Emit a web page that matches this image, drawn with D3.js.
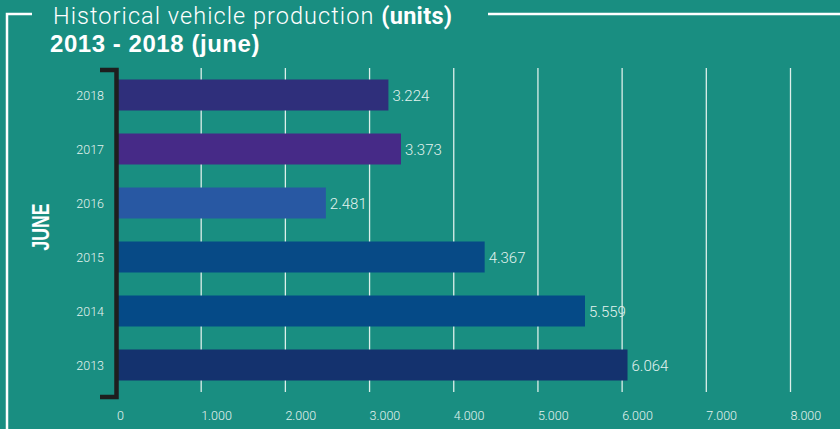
<!DOCTYPE html>
<html>
<head>
<meta charset="utf-8">
<script src="https://cdn.jsdelivr.net/npm/d3@7/dist/d3.min.js"></script>
<style>
html,body{margin:0;padding:0;background:#198e81;}
svg{display:block;}
</style>
</head>
<body>
<svg id="chart" width="840" height="429"></svg>
<script>
const years = ["2018","2017","2016","2015","2014","2013"];
const units = [3224, 3373, 2481, 4367, 5559, 6064];
const barColors = ["#2f2f7b","#462a87","#2858a3","#074a86","#054a87","#14326e"];
const xTicks = [0,1000,2000,3000,4000,5000,6000,7000,8000];
const xTickLabels = ["0","1.000","2.000","3.000","4.000","5.000","6.000","7.000","8.000"];
const valueLabels = ["3.224","3.373","2.481","4.367","5.559","6.064"];

const svg = d3.select("#chart");
const W = 840, H = 429;
svg.append("rect").attr("width",W).attr("height",H).attr("fill","#198e81");

const x = d3.scaleLinear().domain([0,8000]).range([117,790.5]);
const y = d3.scaleBand().domain(years).range([68,392]).paddingInner(0.426).paddingOuter(0.213);

// frame
svg.append("path").attr("d","M32,14H7V429").attr("fill","none").attr("stroke","#fff").attr("stroke-width",2.5);
svg.append("line").attr("x1",488).attr("x2",840).attr("y1",14).attr("y2",14).attr("stroke","#fff").attr("stroke-width",2.5);

// title
const t1 = svg.append("text").attr("x",53).attr("y",24).attr("fill","#fff")
  .style("font-family","Roboto, sans-serif").style("font-size","23.5px");
t1.append("tspan").attr("font-weight",300).style("letter-spacing","1.05px").text("Historical vehicle production ");
t1.append("tspan").attr("font-weight",700).style("letter-spacing","0.3px").text("(units)");
svg.append("text").attr("x",50).attr("y",52).attr("fill","#fff")
  .style("font-family","'Liberation Sans', Arial, sans-serif").style("font-size","24px").attr("font-weight",700)
  .style("letter-spacing","0.55px")
  .text("2013 - 2018 (june)");

// value labels (under gridlines)
const labelFont = "Roboto, 'Liberation Sans', sans-serif";
svg.append("g").selectAll("text").data(years).join("text")
  .attr("x",(d,i)=>x(units[i])+4)
  .attr("y",d=>y(d)+y.bandwidth()/2+5.5)
  .attr("fill","#e3f3ef")
  .style("font-family",labelFont).style("font-size","15px").attr("font-weight",300)
  .text((d,i)=>valueLabels[i]);

// gridlines
svg.append("g").selectAll("line").data(xTicks.slice(1)).join("line")
  .attr("x1",d=>x(d)).attr("x2",d=>x(d)).attr("y1",68).attr("y2",392)
  .attr("stroke","#dcefea").attr("stroke-width",1.3);

// bars
svg.append("g").selectAll("rect").data(years).join("rect")
  .attr("x",x(0)).attr("y",d=>y(d))
  .attr("width",(d,i)=>x(units[i])-x(0))
  .attr("height",y.bandwidth())
  .attr("fill",(d,i)=>barColors[i]);

// x axis labels
const xAxis = d3.axisBottom(x).tickValues(xTicks).tickFormat((d,i)=>xTickLabels[i]).tickSize(0).tickPadding(0);
const gx = svg.append("g").attr("transform","translate(0,411)").call(xAxis);
gx.select(".domain").remove();
gx.selectAll("text").attr("text-anchor","start").attr("dx",-0.5)
  .attr("fill","#e3f3ef").style("font-family",labelFont).style("font-size","12.5px").attr("font-weight",300);

// y axis labels
const yAxis = d3.axisLeft(y).tickSize(0).tickPadding(0);
const gy = svg.append("g").attr("transform","translate(104,0)").call(yAxis);
gy.select(".domain").remove();
gy.selectAll("text").attr("fill","#e3f3ef").style("font-family",labelFont).style("font-size","12.5px").attr("font-weight",300).attr("dy","0.4em");

// bracket
svg.append("path").attr("d","M100,70H116.5V397H100").attr("fill","none")
  .attr("stroke","#1e1e1e").attr("stroke-width",4.5).attr("stroke-linejoin","miter");

// JUNE label
svg.append("text").attr("transform","translate(49,227) rotate(-90)")
  .attr("text-anchor","middle").attr("fill","#fff")
  .style("font-family","'Liberation Sans', sans-serif").style("font-size","24px").attr("font-weight",700)
  .attr("textLength",47).attr("lengthAdjust","spacingAndGlyphs")
  .text("JUNE");
</script>
</body>
</html>
